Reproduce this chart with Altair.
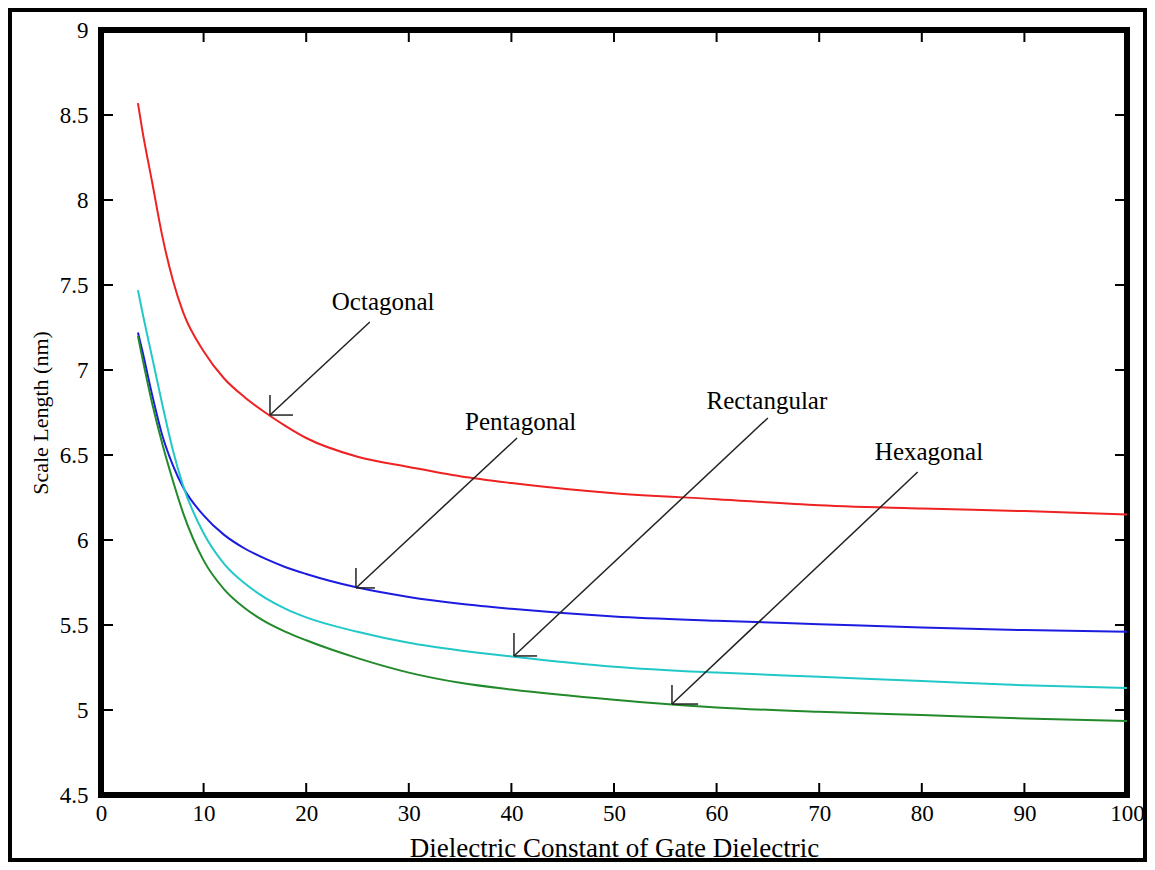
import altair as alt
import pandas as pd

# ---- data ----
eps = [3.6, 4, 5, 6, 7, 8, 10, 12, 14, 16, 18, 20, 25, 30, 35, 40, 50, 60, 70, 80, 90, 100]
octagonal   = [8.57, 8.42, 8.10, 7.78, 7.53, 7.34, 7.11, 6.95, 6.84, 6.75, 6.67, 6.60, 6.49, 6.43, 6.375, 6.335, 6.275, 6.24, 6.205, 6.185, 6.17, 6.15]
pentagonal  = [7.22, 7.12, 6.85, 6.61, 6.44, 6.31, 6.145, 6.03, 5.95, 5.89, 5.84, 5.80, 5.72, 5.665, 5.625, 5.595, 5.55, 5.525, 5.505, 5.485, 5.47, 5.46]
rectangular = [7.47, 7.35, 7.07, 6.79, 6.53, 6.32, 6.04, 5.86, 5.745, 5.66, 5.595, 5.545, 5.46, 5.395, 5.35, 5.315, 5.255, 5.22, 5.195, 5.17, 5.145, 5.13]
hexagonal   = [7.20, 7.08, 6.80, 6.56, 6.35, 6.16, 5.88, 5.71, 5.60, 5.52, 5.46, 5.41, 5.305, 5.22, 5.16, 5.12, 5.06, 5.015, 4.99, 4.97, 4.95, 4.935]

series_names = ["Octagonal", "Pentagonal", "Rectangular", "Hexagonal"]
series_colors = ["#ee2222", "#1c1ce0", "#22c8c8", "#228a2a"]

x_ticks = [0, 10, 20, 30, 40, 50, 60, 70, 80, 90, 100]
y_ticks = [4.5, 5, 5.5, 6, 6.5, 7, 7.5, 8, 8.5, 9]

# annotation labels (text position) and arrows (start -> end, with corner head)
ann_text = ["Octagonal", "Pentagonal", "Rectangular", "Hexagonal"]
ann_tx = [27.5, 40.9, 64.9, 80.7]
ann_ty = [7.40, 6.694, 6.818, 6.518]
arr_x1 = [26.2, 40.55, 65.0, 79.6]
arr_y1 = [7.282, 6.60, 6.718, 6.40]
arr_x2 = [16.47, 24.85, 40.25, 55.65]
arr_y2 = [6.735, 5.718, 5.318, 5.035]
head_top = [6.853, 5.835, 5.453, 5.147]
head_right = [18.71, 26.7, 42.5, 58.2]

W, H = 1026, 765
FONT = "Liberation Serif"

rows = []
for name, vals in zip(series_names, [octagonal, pentagonal, rectangular, hexagonal]):
    for e, v in zip(eps, vals):
        rows.append({"eps": e, "L": v, "shape": name})
df = pd.DataFrame(rows)

xs = alt.Scale(domain=[0, 100], nice=False)
ys = alt.Scale(domain=[4.5, 9], nice=False)

lines = alt.Chart(df).mark_line(strokeWidth=2, interpolate="monotone").encode(
    x=alt.X("eps:Q", scale=xs,
            axis=alt.Axis(values=x_ticks, title="Dielectric Constant of Gate Dielectric",
                          labelPadding=7, titleFontSize=27, titleY=53, titleBaseline="middle")),
    y=alt.Y("L:Q", scale=ys,
            axis=alt.Axis(values=y_ticks, format="~g", title="Scale Length (nm)",
                          labelPadding=13, titleFontSize=22, titleX=-61, titleBaseline="middle")),
    color=alt.Color("shape:N", scale=alt.Scale(domain=series_names, range=series_colors), legend=None),
)

# inward tick marks on all four sides
xt = pd.DataFrame({"v": x_ticks})
yt = pd.DataFrame({"v": y_ticks})
tick_bottom = alt.Chart(xt).mark_rule(color="black", strokeWidth=2).encode(
    x=alt.X("v:Q", scale=xs), y=alt.value(H), y2=alt.value(H - 12))
tick_top = alt.Chart(xt).mark_rule(color="black", strokeWidth=2).encode(
    x=alt.X("v:Q", scale=xs), y=alt.value(0), y2=alt.value(12))
tick_left = alt.Chart(yt).mark_rule(color="black", strokeWidth=2).encode(
    y=alt.Y("v:Q", scale=ys), x=alt.value(0), x2=alt.value(12))
tick_right = alt.Chart(yt).mark_rule(color="black", strokeWidth=2).encode(
    y=alt.Y("v:Q", scale=ys), x=alt.value(W), x2=alt.value(W - 12))

ann = pd.DataFrame({"t": ann_text, "tx": ann_tx, "ty": ann_ty,
                    "x1": arr_x1, "y1": arr_y1, "x2": arr_x2, "y2": arr_y2,
                    "ht": head_top, "hr": head_right})
labels = alt.Chart(ann).mark_text(font=FONT, fontSize=25, color="black",
                                  align="center", baseline="middle").encode(
    x=alt.X("tx:Q", scale=xs), y=alt.Y("ty:Q", scale=ys), text="t:N")
shafts = alt.Chart(ann).mark_rule(color="#222222", strokeWidth=1.5).encode(
    x=alt.X("x1:Q", scale=xs), y=alt.Y("y1:Q", scale=ys), x2="x2:Q", y2="y2:Q")
head_v = alt.Chart(ann).mark_rule(color="#222222", strokeWidth=1.5).encode(
    x=alt.X("x2:Q", scale=xs), y=alt.Y("y2:Q", scale=ys), y2="ht:Q")
head_h = alt.Chart(ann).mark_rule(color="#222222", strokeWidth=1.5).encode(
    x=alt.X("x2:Q", scale=xs), y=alt.Y("y2:Q", scale=ys), x2="hr:Q")

border = alt.Chart(pd.DataFrame({"a": [0]})).mark_rect(
    filled=False, stroke="black", strokeWidth=4).encode(
    x=alt.value(-91), x2=alt.value(W + 18), y=alt.value(-20), y2=alt.value(H + 65))

chart = alt.layer(lines, shafts, head_v, head_h, labels,
                  tick_bottom, tick_top, tick_left, tick_right, border).properties(
    width=W, height=H,
    padding={"left": 93, "top": 22, "right": 20, "bottom": 67},
    autosize=alt.AutoSizeParams(type="none"),
    background="white",
).configure_view(stroke="black", strokeWidth=6).configure_axis(
    ticks=False, domain=False, grid=False, labelFlush=False,
    labelFont=FONT, labelFontSize=23, labelColor="black",
    titleFont=FONT, titleFontWeight="normal", titleColor="black",
)

chart.save("out.html", embed_options={"renderer": "svg", "actions": False})
